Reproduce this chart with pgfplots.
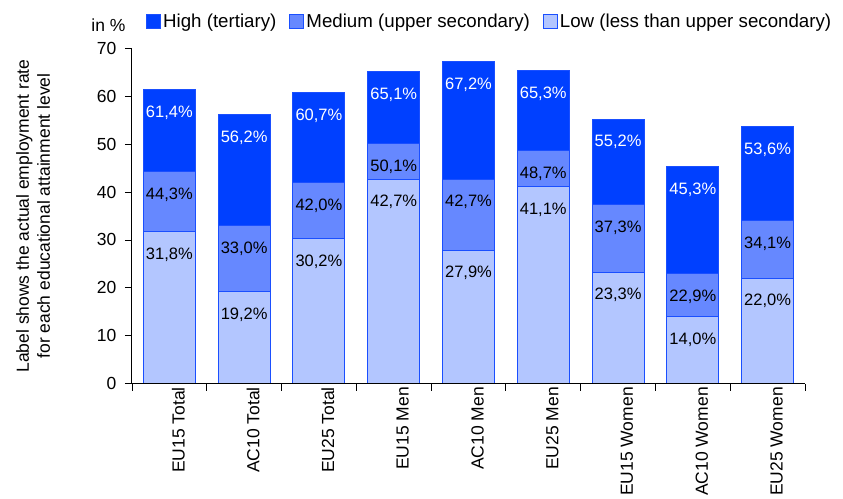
\documentclass[border=0pt]{standalone}
\usepackage{pgfplots}
\usepackage{pgfplotstable}
\pgfplotsset{compat=1.18}
\usepackage{fontspec}
\setmainfont{Liberation Sans}
\definecolor{cHigh}{HTML}{0040FF}
\definecolor{cMed}{HTML}{6688FF}
\definecolor{cLow}{HTML}{B3C6FF}
\definecolor{cEdge}{HTML}{1A4FFF}
\pgfplotstableread{
x high medium low
0 61.4 44.3 31.8
1 56.2 33.0 19.2
2 60.7 42.0 30.2
3 65.1 50.1 42.7
4 67.2 42.7 27.9
5 65.3 48.7 41.1
6 55.2 37.3 23.3
7 45.3 22.9 14.0
8 53.6 34.1 22.0
}\data
\newcommand{\fs}{\fontsize{17.5}{21}\selectfont}
\begin{document}
\begin{tikzpicture}
\path[use as bounding box] (-132pt,-114.3pt) rectangle (711pt,383.7pt);
\begin{axis}[
  scale only axis,
  width=673pt, height=335.4pt,
  xmin=-0.5, xmax=8.5,
  ymin=0, ymax=70,
  clip=false,
  axis lines*=left,
  axis line style={-, black, line width=1pt},
  axis on top,
  tick align=outside,
  major tick length=7pt,
  tick style={black, line width=0.8pt},
  ytick={0,10,...,70},
  yticklabel style={font=\fs, xshift=-5pt},
  /pgf/number format/assume math mode=true,
  xtick={-0.5,0.5,...,8.5},
  xticklabels={},
  extra x ticks={0,1,...,8},
  extra x tick labels={EU15 Total,AC10 Total,EU25 Total,EU15 Men,AC10 Men,EU25 Men,EU15 Women,AC10 Women,EU25 Women},
  extra x tick style={major tick length=0pt, tick style={draw=none},
    tick label style={rotate=90, anchor=east, font=\fs, yshift=-9pt}},
  ylabel={Label shows the actual employment rate\\for each educational attainment level},
  every axis y label/.style={font=\fs, align=center, at={(axis description cs:-0.1471,0.5)}, anchor=center, rotate=90},
  legend columns=3,
  legend style={draw=none, fill=none, font=\fontsize{18.7}{22}\selectfont, at={(rel axis cs:0.0208,1)}, anchor=west, yshift=27pt, inner sep=0pt,
    /tikz/every even column/.append style={column sep=11pt}},
  legend cell align=left,
  legend image code/.code={\draw[#1] (0pt,-7pt) rectangle (14pt,7pt);},
  every node near coord/.append style={anchor=center, yshift=-23pt, font=\fontsize{16.5}{19}\selectfont},
]
\addplot[ybar, bar width=52pt, bar shift=0pt, fill=cHigh, draw=cEdge, line width=1pt,
  point meta=y, nodes near coords={\pgfmathprintnumber[fixed,fixed zerofill,precision=1,use comma,assume math mode=true]{\pgfplotspointmeta}\%},
  every node near coord/.append style={text=white}] table[x=x,y=high]{\data};
\addlegendentry{High (tertiary)}
\addplot[ybar, bar width=52pt, bar shift=0pt, fill=cMed, draw=cEdge, line width=1pt,
  point meta=y, nodes near coords={\pgfmathprintnumber[fixed,fixed zerofill,precision=1,use comma,assume math mode=true]{\pgfplotspointmeta}\%},
  every node near coord/.append style={text=black}] table[x=x,y=medium]{\data};
\addlegendentry{Medium (upper secondary)}
\addplot[ybar, bar width=52pt, bar shift=0pt, fill=cLow, draw=cEdge, line width=1pt,
  point meta=y, nodes near coords={\pgfmathprintnumber[fixed,fixed zerofill,precision=1,use comma,assume math mode=true]{\pgfplotspointmeta}\%},
  every node near coord/.append style={text=black}] table[x=x,y=low]{\data};
\addlegendentry{Low (less than upper secondary)}
\node[anchor=east, font=\fs] at (rel axis cs:0,1) [xshift=-3pt, yshift=23pt] {in \%};
\end{axis}
\end{tikzpicture}
\end{document}
